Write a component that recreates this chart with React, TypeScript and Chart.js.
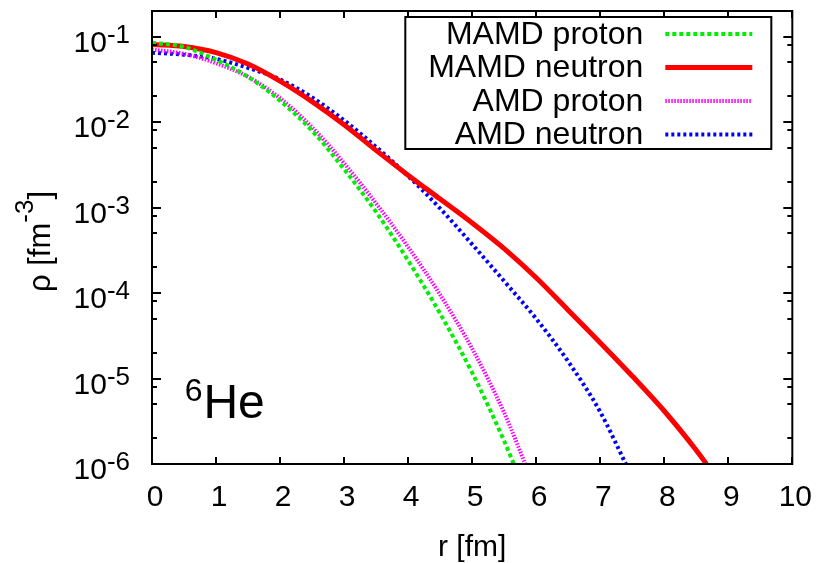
import { useEffect, useRef } from 'react';
import { Chart, registerables } from 'chart.js';

Chart.register(...registerables);

const FONT = '"Liberation Sans", Arial, Helvetica, sans-serif';

// 6He density distributions: radius r [fm] and density rho [fm^-3]
const mamdProtonR = [0, 0.5, 1, 1.5, 2, 2.5, 3, 3.5, 4, 4.5, 5, 5.5, 5.65];
const mamdProtonRho = [0.0851, 0.0759, 0.0537, 0.0339, 0.0178, 0.00794, 0.00282, 8.91e-4, 2.4e-4, 5.75e-5, 1.17e-5, 1.86e-6, 1.0e-6];

const mamdNeutronR = [0, 0.5, 1, 1.5, 2, 2.5, 3, 3.5, 4, 4.5, 5, 5.5, 6, 6.5, 7, 7.5, 8, 8.5, 8.66];
const mamdNeutronRho = [0.0813, 0.0769, 0.0652, 0.0479, 0.0302, 0.0174, 0.00933, 0.00468, 0.0024, 0.00126, 6.61e-4, 3.31e-4, 1.51e-4, 6.31e-5, 2.63e-5, 1.07e-5, 4.17e-6, 1.45e-6, 1.0e-6];

const amdProtonR = [0, 0.5, 1, 1.5, 2, 2.5, 3, 3.5, 4, 4.5, 5, 5.5, 5.83];
const amdProtonRho = [0.0708, 0.0631, 0.049, 0.0339, 0.0191, 0.00871, 0.00331, 0.00112, 3.47e-4, 9.55e-5, 2.24e-5, 3.98e-6, 1.0e-6];

const amdNeutronR = [0, 0.5, 1, 1.5, 2, 2.5, 3, 3.5, 4, 4.5, 5, 5.5, 6, 6.5, 7, 7.4];
const amdNeutronRho = [0.065, 0.0617, 0.055, 0.0432, 0.0316, 0.0195, 0.0105, 0.00513, 0.00234, 9.77e-4, 3.72e-4, 1.38e-4, 5.01e-5, 1.58e-5, 4.07e-6, 1.0e-6];

const seriesLabels = ['MAMD proton', 'MAMD neutron', 'AMD proton', 'AMD neutron'];

const xTicks = [0, 1, 2, 3, 4, 5, 6, 7, 8, 9, 10];
const yDecades = [-1, -2, -3, -4, -5, -6];
const yMinorMantissas = [2, 5, 8];
const xMin = 0;
const xMax = 10;
const yMin = 1e-6;
const yMax = 0.2;

// nucleus label anchor (data coordinates)
const nucleusMass = '6';
const nucleusName = 'He';
const nucleusAtR = 0.51;
const nucleusAtRho = 3.5e-6;

const pts = (r: number[], rho: number[]) => r.map((x, i) => ({ x, y: rho[i] }));

const decorations = {
  id: 'decorations',
  afterDatasetsDraw(chart: any) {
    const { ctx, chartArea: ca, scales } = chart;
    const xs = scales.x;
    const ys = scales.y;
    ctx.save();
    ctx.strokeStyle = '#000';
    ctx.fillStyle = '#000';
    ctx.lineWidth = 2;
    ctx.setLineDash([]);

    // frame
    ctx.strokeRect(ca.left, ca.top, ca.right - ca.left, ca.bottom - ca.top);

    // inward tick marks, mirrored on all sides
    ctx.beginPath();
    xTicks.forEach((v) => {
      const px = Math.round(xs.getPixelForValue(v));
      ctx.moveTo(px, ca.bottom);
      ctx.lineTo(px, ca.bottom - 7);
      ctx.moveTo(px, ca.top);
      ctx.lineTo(px, ca.top + 7);
    });
    yDecades.forEach((e) => {
      const py = Math.round(ys.getPixelForValue(Math.pow(10, e)));
      ctx.moveTo(ca.left, py);
      ctx.lineTo(ca.left + 9, py);
      ctx.moveTo(ca.right, py);
      ctx.lineTo(ca.right - 9, py);
      yMinorMantissas.forEach((m) => {
        const v = m * Math.pow(10, e);
        if (v >= yMax) return;
        const pm = Math.round(ys.getPixelForValue(v));
        ctx.moveTo(ca.left, pm);
        ctx.lineTo(ca.left + 5, pm);
        ctx.moveTo(ca.right, pm);
        ctx.lineTo(ca.right - 5, pm);
      });
    });
    ctx.stroke();

    // y tick labels 10^e
    ctx.textBaseline = 'alphabetic';
    ctx.textAlign = 'right';
    const labelRight = ca.left - 22;
    yDecades.forEach((e) => {
      const py = ys.getPixelForValue(Math.pow(10, e));
      const sup = String(e);
      ctx.font = `26px ${FONT}`;
      const supW = ctx.measureText(sup).width;
      ctx.fillText(sup, labelRight, py + 6);
      ctx.font = `30px ${FONT}`;
      ctx.fillText('10', labelRight - supW, py + 15);
    });

    // y axis title: rho [fm^-3]
    ctx.save();
    ctx.translate(50, 292);
    ctx.rotate(-Math.PI / 2);
    ctx.textAlign = 'left';
    ctx.font = `31px ${FONT}`;
    const head = 'ρ [fm';
    ctx.fillText(head, 0, 0);
    let tx = ctx.measureText(head).width;
    ctx.font = `26px ${FONT}`;
    ctx.fillText('-3', tx, -17);
    tx += ctx.measureText('-3').width;
    ctx.font = `31px ${FONT}`;
    ctx.fillText(']', tx, 0);
    ctx.restore();

    // nucleus label
    ctx.textAlign = 'left';
    const nx = xs.getPixelForValue(nucleusAtR);
    const ny = ys.getPixelForValue(nucleusAtRho);
    ctx.font = `32px ${FONT}`;
    ctx.fillText(nucleusMass, nx, ny - 17);
    const mw = ctx.measureText(nucleusMass).width;
    ctx.font = `48px ${FONT}`;
    ctx.fillText(nucleusName, nx + mw + 1, ny);

    // legend box
    const bw = 366;
    const bh = 132;
    const bl = ca.right - 21 - bw;
    const bt = ca.top + 6;
    ctx.fillStyle = '#fff';
    ctx.fillRect(bl, bt, bw, bh);
    ctx.strokeStyle = '#000';
    ctx.lineWidth = 2;
    ctx.strokeRect(bl, bt, bw, bh);
    ctx.fillStyle = '#000';
    ctx.font = `32px ${FONT}`;
    ctx.textAlign = 'right';
    ctx.textBaseline = 'middle';
    chart.data.datasets.forEach((ds: any, i: number) => {
      const y = bt + 17 + i * 33.5;
      ctx.fillText(ds.label, bl + 238, y + 1);
      ctx.save();
      ctx.strokeStyle = ds.borderColor;
      ctx.lineWidth = ds.borderWidth;
      ctx.setLineDash(ds.borderDash || []);
      ctx.beginPath();
      ctx.moveTo(bl + 260, y);
      ctx.lineTo(bl + 347, y);
      ctx.stroke();
      ctx.restore();
    });

    ctx.restore();
  },
};

export default function App() {
  const canvasRef = useRef<HTMLCanvasElement | null>(null);

  useEffect(() => {
    document.body.style.margin = '0';
    const canvas = canvasRef.current;
    if (!canvas) return;
    const chart = new Chart(canvas, {
      type: 'line',
      data: {
        datasets: [
          {
            label: seriesLabels[0],
            data: pts(mamdProtonR, mamdProtonRho),
            borderColor: '#00ee00',
            borderWidth: 4,
            borderDash: [4, 3],
          },
          {
            label: seriesLabels[1],
            data: pts(mamdNeutronR, mamdNeutronRho),
            borderColor: '#ff0000',
            borderWidth: 5,
          },
          {
            label: seriesLabels[2],
            data: pts(amdProtonR, amdProtonRho),
            borderColor: '#ff00ff',
            borderWidth: 4,
            borderDash: [1.5, 1.5],
          },
          {
            label: seriesLabels[3],
            data: pts(amdNeutronR, amdNeutronRho),
            borderColor: '#0000ff',
            borderWidth: 4,
            borderDash: [3, 3],
          },
        ],
      },
      options: {
        animation: false,
        responsive: false,
        layout: { padding: { top: 11, right: 25, left: 0, bottom: 0 } },
        plugins: { legend: { display: false }, tooltip: { enabled: false } },
        elements: {
          point: { radius: 0 },
          line: { cubicInterpolationMode: 'monotone', fill: false },
        },
        scales: {
          x: {
            type: 'linear',
            min: xMin,
            max: xMax,
            grid: { display: false, drawTicks: false },
            border: { display: false },
            ticks: {
              stepSize: 1,
              color: '#000',
              padding: 16,
              labelOffset: 3,
              font: { size: 30, family: FONT },
            },
            title: {
              display: true,
              text: 'r [fm]',
              color: '#000',
              padding: 0,
              font: { size: 30, family: FONT, lineHeight: 1 },
            },
            afterFit: (s: any) => {
              s.height = 99;
            },
          },
          y: {
            type: 'logarithmic',
            min: yMin,
            max: yMax,
            grid: { display: false, drawTicks: false },
            border: { display: false },
            ticks: { display: false },
            afterFit: (s: any) => {
              s.width = 152;
            },
          },
        },
      } as any,
      plugins: [decorations],
    });
    return () => chart.destroy();
  }, []);

  return (
    <div style={{ width: 825, height: 563, background: '#fff' }}>
      <canvas ref={canvasRef} width={825} height={563} style={{ display: 'block' }} />
    </div>
  );
}
